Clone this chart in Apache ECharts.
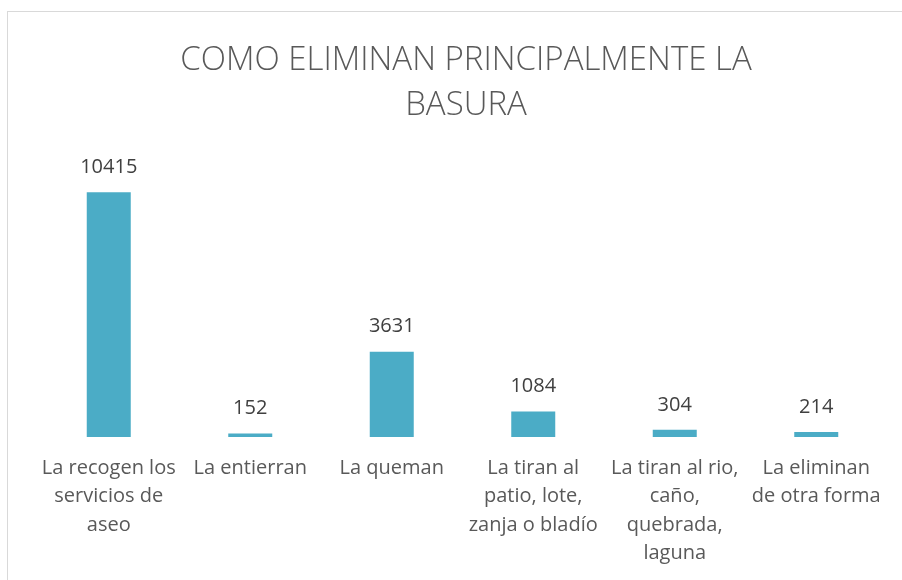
<html>

<head>
    <meta charset="utf-8" />
    <style>
        html, body { margin: 0; padding: 0; background: #fff; }
        #frame { position: absolute; left: 7px; top: 11px; right: 0; bottom: 0;
                 border-top: 1px solid #d9d9d9; border-left: 1px solid #d9d9d9; }
    </style>
</head>

<body>
    <div id="frame"></div>
    <div id="chart" style="position:absolute;left:0;top:0;width:902px;height:580px"></div>
    <script src="https://cdn.jsdelivr.net/npm/echarts@6/dist/echarts.min.js"></script>
    <script>
        // categorias y valores
        var categories = [
            'La recogen los\nservicios de\naseo',
            'La entierran',
            'La queman',
            'La tiran al\npatio, lote,\nzanja o bladío',
            'La tiran al rio,\ncaño,\nquebrada,\nlaguna',
            'La eliminan\nde otra forma'
        ];
        var values = [10415, 152, 3631, 1084, 304, 214];

        var chart = echarts.init(document.getElementById('chart'));
        var option = {
            title: {
                text: 'COMO ELIMINAN PRINCIPALMENTE LA\nBASURA',
                left: 461,
                top: 33,
                textAlign: 'center',
                textStyle: {
                    fontFamily: 'Open Sans',
                    fontWeight: 300,
                    fontSize: 33,
                    lineHeight: 45,
                    color: '#595959'
                }
            },
            grid: {
                left: 38,
                right: 15,
                top: 155,
                bottom: 143
            },
            xAxis: {
                type: 'category',
                data: categories,
                axisLine: { show: false },
                axisTick: { show: false },
                axisLabel: {
                    interval: 0,
                    margin: 17,
                    fontFamily: 'Open Sans',
                    fontSize: 20,
                    lineHeight: 28.5,
                    color: '#595959'
                }
            },
            yAxis: {
                type: 'value',
                min: 0,
                max: 12000,
                show: false,
                splitLine: { show: false }
            },
            series: [
                {
                    type: 'bar',
                    data: values,
                    barWidth: 44,
                    itemStyle: { color: '#4BACC6' },
                    label: {
                        show: true,
                        position: 'top',
                        distance: 15,
                        fontFamily: 'Open Sans',
                        fontSize: 20,
                        color: '#404040'
                    }
                }
            ]
        };
        chart.setOption(option);
    </script>
</body>

</html>
